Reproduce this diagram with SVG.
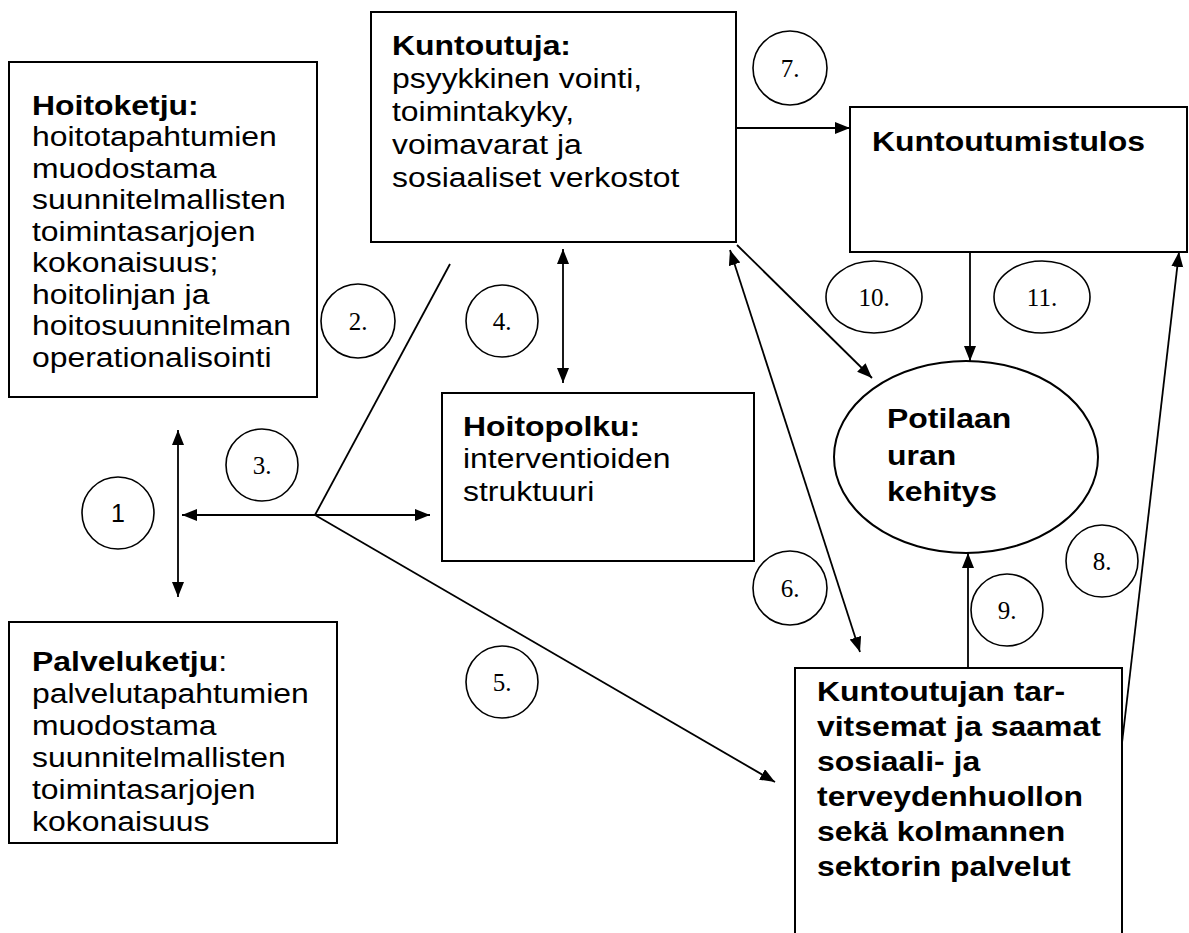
<svg xmlns="http://www.w3.org/2000/svg" width="1189" height="933" viewBox="0 0 1189 933">
  <style>
    .box { fill: #ffffff; stroke: #000000; stroke-width: 2; }
    .tag { fill: #ffffff; stroke: #000000; stroke-width: 1.6; }
    .txt { font-family: "Liberation Sans", Arial, sans-serif; font-size: 28px; fill: #000000; }
    .b { font-weight: bold; }
    .num { font-family: "Liberation Serif", "Times New Roman", serif; font-size: 25px; fill: #000000; text-anchor: middle; }
    .num-sans { font-family: "Liberation Sans", Arial, sans-serif; font-size: 25px; fill: #000000; text-anchor: middle; }
    .link { fill: none; stroke: #000000; stroke-width: 1.8; }
  </style>
  <defs>
    <marker id="arrow" markerUnits="userSpaceOnUse" markerWidth="16" markerHeight="14" refX="15" refY="6" orient="auto-start-reverse">
      <path d="M0,0 L15,6 L0,12 z" fill="#000000"/>
    </marker>
  </defs>

  <rect width="1189" height="933" fill="#ffffff"/>

  <!-- Hoitoketju -->
  <g id="hoitoketju">
    <rect class="box" x="9" y="62" width="308" height="335"/>
    <g transform="translate(32,0) scale(1.14,1)">
      <text class="txt">
        <tspan class="b" x="0" y="115">Hoitoketju:</tspan>
        <tspan x="0" y="146.5">hoitotapahtumien</tspan>
        <tspan x="0" y="178">muodostama</tspan>
        <tspan x="0" y="209.5">suunnitelmallisten</tspan>
        <tspan x="0" y="241">toimintasarjojen</tspan>
        <tspan x="0" y="272.5">kokonaisuus;</tspan>
        <tspan x="0" y="304">hoitolinjan ja</tspan>
        <tspan x="0" y="335.5">hoitosuunnitelman</tspan>
        <tspan x="0" y="367">operationalisointi</tspan>
      </text>
    </g>
  </g>

  <!-- Kuntoutuja -->
  <g id="kuntoutuja">
    <rect class="box" x="371" y="12" width="365" height="230"/>
    <g transform="translate(392,0) scale(1.14,1)">
      <text class="txt">
        <tspan class="b" x="0" y="55">Kuntoutuja:</tspan>
        <tspan x="0" y="88">psyykkinen vointi,</tspan>
        <tspan x="0" y="121">toimintakyky,</tspan>
        <tspan x="0" y="154">voimavarat ja</tspan>
        <tspan x="0" y="187">sosiaaliset verkostot</tspan>
      </text>
    </g>
  </g>

  <!-- Kuntoutumistulos -->
  <g id="kuntoutumistulos">
    <rect class="box" x="850" y="107" width="337" height="145"/>
    <g transform="translate(872,0) scale(1.14,1)">
      <text class="txt b" x="0" y="151">Kuntoutumistulos</text>
    </g>
  </g>

  <!-- Hoitopolku -->
  <g id="hoitopolku">
    <rect class="box" x="442" y="393" width="312" height="168"/>
    <g transform="translate(463,0) scale(1.14,1)">
      <text class="txt">
        <tspan class="b" x="0" y="436">Hoitopolku:</tspan>
        <tspan x="0" y="468.5">interventioiden</tspan>
        <tspan x="0" y="501">struktuuri</tspan>
      </text>
    </g>
  </g>

  <!-- Potilaan uran kehitys -->
  <g id="potilaan-ura">
    <ellipse class="box" cx="966" cy="457" rx="132" ry="96"/>
    <g transform="translate(887,0) scale(1.14,1)">
      <text class="txt b">
        <tspan x="0" y="428">Potilaan</tspan>
        <tspan x="0" y="465">uran</tspan>
        <tspan x="0" y="501">kehitys</tspan>
      </text>
    </g>
  </g>

  <!-- Palveluketju -->
  <g id="palveluketju">
    <rect class="box" x="9" y="622" width="328" height="221"/>
    <g transform="translate(32,0) scale(1.14,1)">
      <text class="txt">
        <tspan x="0" y="671"><tspan class="b">Palveluketju</tspan>:</tspan>
        <tspan x="0" y="703">palvelutapahtumien</tspan>
        <tspan x="0" y="735">muodostama</tspan>
        <tspan x="0" y="767">suunnitelmallisten</tspan>
        <tspan x="0" y="799">toimintasarjojen</tspan>
        <tspan x="0" y="831">kokonaisuus</tspan>
      </text>
    </g>
  </g>

  <!-- Palvelut (box runs past the lower edge) -->
  <g id="palvelut">
    <rect class="box" x="795" y="668" width="327" height="300"/>
    <g transform="translate(817,0) scale(1.14,1)">
      <text class="txt b">
        <tspan x="0" y="701">Kuntoutujan tar-</tspan>
        <tspan x="0" y="736">vitsemat ja saamat</tspan>
        <tspan x="0" y="771">sosiaali- ja</tspan>
        <tspan x="0" y="806">terveydenhuollon</tspan>
        <tspan x="0" y="841">sekä kolmannen</tspan>
        <tspan x="0" y="876">sektorin palvelut</tspan>
      </text>
    </g>
  </g>

  <!-- Connectors -->
  <g id="connectors">
    <line class="link" x1="178" y1="430" x2="178" y2="597" marker-start="url(#arrow)" marker-end="url(#arrow)"/>
    <line class="link" x1="182" y1="515" x2="430" y2="515" marker-start="url(#arrow)" marker-end="url(#arrow)"/>
    <line class="link" x1="315" y1="515" x2="450" y2="264"/>
    <line class="link" x1="315" y1="515" x2="775" y2="782" marker-end="url(#arrow)"/>
    <line class="link" x1="563" y1="249" x2="563" y2="383" marker-start="url(#arrow)" marker-end="url(#arrow)"/>
    <line class="link" x1="737" y1="128" x2="850" y2="128" marker-end="url(#arrow)"/>
    <line class="link" x1="737" y1="245" x2="872" y2="378" marker-end="url(#arrow)"/>
    <line class="link" x1="730" y1="250" x2="860" y2="652" marker-start="url(#arrow)" marker-end="url(#arrow)"/>
    <line class="link" x1="970" y1="252" x2="970" y2="361" marker-end="url(#arrow)"/>
    <line class="link" x1="968" y1="668" x2="968" y2="553" marker-end="url(#arrow)"/>
    <line class="link" x1="1122" y1="743" x2="1179" y2="252" marker-end="url(#arrow)"/>
  </g>

  <!-- Numbered tags -->
  <g id="tag-1"><circle class="tag" cx="118" cy="513" r="36"/><text class="num-sans" x="118" y="522">1</text></g>
  <g id="tag-2"><circle class="tag" cx="358" cy="321" r="37"/><text class="num" x="358" y="330">2.</text></g>
  <g id="tag-3"><circle class="tag" cx="262" cy="465" r="36"/><text class="num" x="262" y="474">3.</text></g>
  <g id="tag-4"><circle class="tag" cx="502" cy="321" r="36"/><text class="num" x="502" y="330">4.</text></g>
  <g id="tag-5"><circle class="tag" cx="502" cy="682" r="36"/><text class="num" x="502" y="691">5.</text></g>
  <g id="tag-6"><circle class="tag" cx="790" cy="588" r="37"/><text class="num" x="790" y="597">6.</text></g>
  <g id="tag-7"><circle class="tag" cx="790" cy="68" r="37"/><text class="num" x="790" y="77">7.</text></g>
  <g id="tag-8"><circle class="tag" cx="1102" cy="561" r="36"/><text class="num" x="1102" y="570">8.</text></g>
  <g id="tag-9"><circle class="tag" cx="1007" cy="610" r="36"/><text class="num" x="1007" y="619">9.</text></g>
  <g id="tag-10"><ellipse class="tag" cx="874" cy="297" rx="48" ry="36"/><text class="num" x="874" y="306">10.</text></g>
  <g id="tag-11"><ellipse class="tag" cx="1042" cy="297" rx="48" ry="36"/><text class="num" x="1042" y="306">11.</text></g>
</svg>
